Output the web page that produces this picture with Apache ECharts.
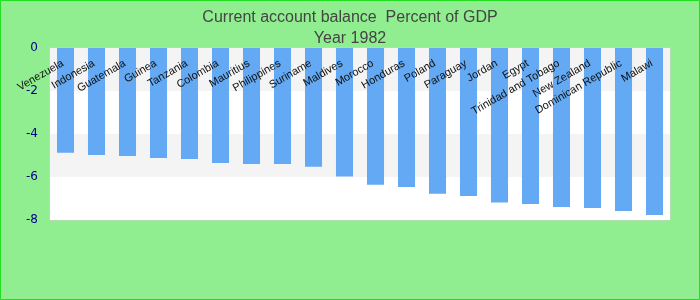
<!DOCTYPE html>
<html><head><meta charset="utf-8">
<script src="https://cdn.jsdelivr.net/npm/echarts@6/dist/echarts.min.js"></script>
<style>html,body{margin:0;padding:0;}#c{width:700px;height:300px;}</style>
</head><body><div id="c"></div>
<script>
const categories = ["Venezuela","Indonesia","Guatemala","Guinea","Tanzania","Colombia","Mauritius","Philippines","Suriname","Maldives","Morocco","Honduras","Poland","Paraguay","Jordan","Egypt","Trinidad and Tobago","New Zealand","Dominican Republic","Malawi"];
const values = [-4.87,-4.98,-5.02,-5.12,-5.16,-5.35,-5.40,-5.40,-5.52,-5.98,-6.36,-6.47,-6.78,-6.88,-7.19,-7.26,-7.40,-7.44,-7.58,-7.77];
const yTicks = [-8,-6,-4,-2,0];

const chart = echarts.init(document.getElementById('c'), null, {renderer:'canvas'});
chart.setOption({
  backgroundColor: '#90ee90',
  animation: false,
  graphic: [{type:'rect', shape:{x:0.5,y:0.5,width:699,height:299}, style:{fill:'none', stroke:'#22dd22', lineWidth:1}, silent:true, z:100}],
  title: {
    text: 'Current account balance  Percent of GDP\nYear 1982',
    left: 'center', top: 2,
    textStyle: {fontFamily:'Liberation Sans, Arial, sans-serif', fontSize:16, fontWeight:'normal', color:'#444', lineHeight:21}
  },
  grid: {left:50, right:30, top:48, bottom:80, show:true, borderColor:'#d0d0d0', borderWidth:1, backgroundColor:'#fff'},
  xAxis: {
    type:'category', data: categories, position:'top',
    axisLine:{show:false}, axisTick:{show:false},
    axisLabel:{inside:true, rotate:30, interval:0, margin:13, padding:[0,3,0,0], color:'#111', fontSize:11, fontFamily:'Liberation Sans, Arial, sans-serif'},
    z: 10
  },
  yAxis: {
    type:'value', min:-8, max:0, interval:2,
    axisLine:{show:false}, axisTick:{show:false}, splitLine:{show:false},
    splitArea:{show:true, areaStyle:{color:['#ffffff','#f4f4f4']}},
    axisLabel:{color:'#00008b', fontSize:12, fontFamily:'DejaVu Sans, sans-serif', margin:12,
      formatter: v => yTicks.includes(v) ? String(v) : ''}
  },
  series: [{type:'bar', data: values, barWidth:'55%', itemStyle:{color:'#63a9f4'}, z:2}]
});
</script></body></html>
